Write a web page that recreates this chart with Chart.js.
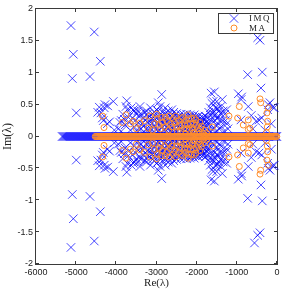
<!DOCTYPE html>
<html>
<head>
<meta charset="utf-8">
<script src="https://cdn.jsdelivr.net/npm/chart.js@4/dist/chart.umd.min.js"></script>
<style>
html, body { margin: 0; padding: 0; background: #fff; }
canvas { display: block; }
</style>
</head>
<body>
<canvas id="eigChart" width="288" height="291"></canvas>
<script>
// eigenvalue spectrum: IMQ vs MA

const X_TICKS = [-6000, -5000, -4000, -3000, -2000, -1000, 0];
const Y_TICKS = [-2, -1.5, -1, -0.5, 0, 0.5, 1, 1.5, 2];

// real eigenvalues (Im = 0), packed densely along the axis
const imqReal = [
  -5350,-5325,-5300,-5275,-5250,-5225,-5200,-5175,-5150,-5125,-5100,-5075,-5050,-5025,-5000,
  -4975,-4950,-4925,-4900,-4875,-4850,-4825,-4800,-4775,-4750,-4725,-4700,-4675,-4650,-4625,-4600,-4575,-4550,-4525,-4500,-4475,-4450,-4425,-4400,-4375,-4350,-4325,-4300,-4275,-4250,-4225,-4200,-4175,-4150,-4125,-4100,-4075,-4050,-4025,-4000,
  -3975,-3950,-3925,-3900,-3875,-3850,-3825,-3800,-3775,-3750,-3725,-3700,-3675,-3650,-3625,-3600,-3575,-3550,-3525,-3500,-3475,-3450,-3425,-3400,-3375,-3350,-3325,-3300,-3275,-3250,-3225,-3200,-3175,-3150,-3125,-3100,-3075,-3050,-3025,-3000,
  -2975,-2950,-2925,-2900,-2875,-2850,-2825,-2800,-2775,-2750,-2725,-2700,-2675,-2650,-2625,-2600,-2575,-2550,-2525,-2500,-2475,-2450,-2425,-2400,-2375,-2350,-2325,-2300,-2275,-2250,-2225,-2200,-2175,-2150,-2125,-2100,-2075,-2050,-2025,-2000,
  -1975,-1950,-1925,-1900,-1875,-1850,-1825,-1800,-1775,-1750,-1725,-1700,-1675,-1650,-1625,-1600,-1575,-1550,-1525,-1500,-1475,-1450,-1425,-1400,-1375,-1350,-1325,-1300,-1275,-1250,-1225,-1200,-1175,-1150,-1125,-1100,-1075,-1050,-1025,-1000,
  -975,-950,-925,-900,-875,-850,-825,-800,-775,-750,-725,-700,-675,-650,-625,-600,-575,-550,-525,-500,-475,-450,-425,-400,-375,-350,-325,-300,-275,-250,-225,-200,-175,-150,-125,-100,-75,-50,-25,-5
];
const maReal = [
  -4525,-4500,-4475,-4450,-4425,-4400,-4375,-4350,-4325,-4300,-4275,-4250,-4225,-4200,-4175,-4150,-4125,-4100,-4075,-4050,-4025,-4000,
  -3975,-3950,-3925,-3900,-3875,-3850,-3825,-3800,-3775,-3750,-3725,-3700,-3675,-3650,-3625,-3600,-3575,-3550,-3525,-3500,-3475,-3450,-3425,-3400,-3375,-3350,-3325,-3300,-3275,-3250,-3225,-3200,-3175,-3150,-3125,-3100,-3075,-3050,-3025,-3000,
  -2975,-2950,-2925,-2900,-2875,-2850,-2825,-2800,-2775,-2750,-2725,-2700,-2675,-2650,-2625,-2600,-2575,-2550,-2525,-2500,-2475,-2450,-2425,-2400,-2375,-2350,-2325,-2300,-2275,-2250,-2225,-2200,-2175,-2150,-2125,-2100,-2075,-2050,-2025,-2000,
  -1975,-1950,-1925,-1900,-1875,-1850,-1825,-1800,-1775,-1750,-1725,-1700,-1675,-1650,-1625,-1600,-1575,-1550,-1525,-1500,-1475,-1450,-1425,-1400,-1375,-1350,-1325,-1300,-1275,-1250,-1225,-1200,-1175,-1150,-1125,-1100,-1075,-1050,-1025,-1000,
  -975,-950,-925,-900,-875,-850,-825,-800,-775,-750,-725,-700,-675,-650,-625,-600,-575,-550,-525,-500,-475,-450,-425,-400,-375,-350,-325,-300,-275,-250,-225,-200,-175,-150,-125,-100,-75,-50,-25,-5
];

// complex eigenvalues [Re, Im], upper half-plane
const imqUpper = [
  [-5129,1.74],[-4549,1.64],[-5071,1.29],[-4399,1.18],[-5096,0.91],[-4656,0.94],[-4997,0.37],
  [-481,1.55],[-423,1.51],[-560,1.67],[-730,0.97],[-367,1.01],[-399,0.76],
  [-4464,0.38],[-4424,0.46],[-4282,0.50],[-4215,0.48],[-4075,0.55],[-4349,0.29],[-4324,0.25],[-4225,0.20],[-4168,0.23],[-4300,0.45],[-4382,0.37],
  [-3742,0.56],[-3760,0.47],[-3727,0.42],[-3876,0.25],[-3802,0.27],[-3910,0.22],[-3785,0.18],[-4050,0.10],[-3950,0.12],
  [-3880,0.08],[-3840,0.35],[-3700,0.30],[-3630,0.45],[-3560,0.40],[-3530,0.25],[-3470,0.40],[-3430,0.14],[-3390,0.36],
  [-3578,0.42],[-3600,0.29],[-3411,0.47],[-3329,0.29],[-3500,0.35],[-3450,0.22],[-3550,0.15],[-3380,0.12],[-3650,0.10],[-3480,0.08],[-3680,0.22],[-3300,0.38],
  [-3250,0.40],[-3200,0.30],[-3150,0.45],[-3100,0.36],[-3050,0.25],[-3000,0.42],[-2955,0.53],[-2871,0.66],[-2913,0.47],[-2950,0.32],[-2900,0.18],[-2850,0.38],[-2800,0.28],[-2780,0.45],[-2750,0.15],[-2700,0.35],[-2650,0.25],[-2620,0.42],[-2600,0.10],[-2550,0.32],[-2520,0.20],[-3300,0.18],[-3220,0.10],[-3120,0.20],[-3020,0.12],[-2970,0.08],[-2820,0.10],[-2680,0.05],[-3180,0.06],[-2880,0.05],[-2580,0.05],[-3080,0.30],[-2730,0.22],[-3160,0.25],[-2860,0.24],
  [-3420,0.32],[-3360,0.20],[-3340,0.05],[-3280,0.26],[-3260,0.12],[-3230,0.35],[-3190,0.20],[-3140,0.12],[-3110,0.28],[-3090,0.05],[-3060,0.38],[-3040,0.16],[-3010,0.30],[-2990,0.20],[-2960,0.40],[-2930,0.26],[-2920,0.10],[-2890,0.32],[-2870,0.15],[-2840,0.30],
  [-2810,0.20],[-2790,0.36],[-2770,0.08],[-2760,0.28],[-2720,0.12],[-2710,0.40],[-2690,0.18],[-2660,0.32],[-2640,0.10],[-2630,0.22],[-2610,0.30],[-2590,0.16],[-2570,0.38],[-2560,0.24],[-2540,0.10],[-2510,0.28],[-2500,0.36],[-2490,0.08],[-2470,0.20],[-2440,0.30],
  [-2430,0.12],[-2410,0.25],[-2390,0.30],[-2370,0.10],[-2360,0.16],[-2340,0.28],[-2320,0.34],[-2310,0.06],[-2290,0.22],[-2280,0.12],[-2260,0.30],[-2240,0.20],[-2220,0.28],[-2210,0.08],[-2190,0.18],[-2170,0.34],[-2160,0.10],[-2140,0.24],[-2120,0.15],[-2110,0.30],
  [-2090,0.26],[-2070,0.16],[-2060,0.34],[-2040,0.10],[-2030,0.20],[-2010,0.30],[-1990,0.08],[-1970,0.18],[-1960,0.26],[-1940,0.12],[-1930,0.28],[-1910,0.22],[-1890,0.05],[-1870,0.16],[-1860,0.25],[-1840,0.10],[-1820,0.28],[-1810,0.20],[-1790,0.32],[-1770,0.14],
  [-1760,0.08],[-1740,0.30],[-1730,0.20],[-1710,0.05],
  [-2480,0.30],[-2450,0.15],[-2400,0.35],[-2380,0.22],[-2350,0.08],[-2300,0.28],[-2270,0.18],[-2250,0.35],[-2200,0.12],[-2180,0.25],[-2150,0.32],[-2100,0.20],[-2080,0.08],[-2050,0.30],[-2000,0.15],[-1980,0.25],[-1950,0.32],[-1900,0.10],[-1880,0.22],[-1850,0.30],[-1800,0.15],[-1780,0.05],[-1750,0.22],[-1720,0.12],[-2420,0.05],[-2230,0.04],[-2130,0.05],[-2330,0.20],[-2020,0.24],[-1920,0.18],
  [-1640,0.68],[-1560,0.70],[-1620,0.52],[-1580,0.40],[-1650,0.33],[-1700,0.38],[-1500,0.55],[-1450,0.40],[-1550,0.25],[-1500,0.18],[-1420,0.25],[-1362,0.58],[-1300,0.35],[-1253,0.42],[-1380,0.15],[-1600,0.10],[-1320,0.08],[-1470,0.30],[-1250,0.20],
  [-1680,0.20],[-1660,0.45],[-1630,0.26],[-1610,0.36],[-1590,0.55],[-1570,0.14],[-1540,0.34],[-1530,0.45],[-1520,0.08],[-1490,0.28],[-1480,0.44],[-1440,0.12],[-1410,0.36],[-1400,0.47],[-1350,0.25],[-1340,0.40],[-1280,0.25],[-1220,0.12],
  [-963,0.67],[-880,0.62],[-893,0.58],[-715,0.47],[-640,0.33],[-523,0.24],[-449,0.26],[-380,0.29],[-217,0.50],[-175,0.53],[-108,0.46],[-68,0.45],[-232,0.42],[-897,0.26],[-600,0.12],[-300,0.10],[-140,0.20]
];
// conjugates, lower half-plane
const imqLower = [
  [-5129,-1.74],[-4549,-1.64],[-5071,-1.29],[-4399,-1.18],[-5096,-0.91],[-4656,-0.94],[-4997,-0.37],
  [-481,-1.55],[-423,-1.51],[-560,-1.67],[-730,-0.97],[-367,-1.01],[-399,-0.76],
  [-4464,-0.38],[-4424,-0.46],[-4282,-0.50],[-4215,-0.48],[-4075,-0.55],[-4349,-0.29],[-4324,-0.25],[-4225,-0.20],[-4168,-0.23],[-4300,-0.45],[-4382,-0.37],
  [-3742,-0.56],[-3760,-0.47],[-3727,-0.42],[-3876,-0.25],[-3802,-0.27],[-3910,-0.22],[-3785,-0.18],[-4050,-0.10],[-3950,-0.12],
  [-3880,-0.08],[-3840,-0.35],[-3700,-0.30],[-3630,-0.45],[-3560,-0.40],[-3530,-0.25],[-3470,-0.40],[-3430,-0.14],[-3390,-0.36],
  [-3578,-0.42],[-3600,-0.29],[-3411,-0.47],[-3329,-0.29],[-3500,-0.35],[-3450,-0.22],[-3550,-0.15],[-3380,-0.12],[-3650,-0.10],[-3480,-0.08],[-3680,-0.22],[-3300,-0.38],
  [-3250,-0.40],[-3200,-0.30],[-3150,-0.45],[-3100,-0.36],[-3050,-0.25],[-3000,-0.42],[-2955,-0.53],[-2871,-0.66],[-2913,-0.47],[-2950,-0.32],[-2900,-0.18],[-2850,-0.38],[-2800,-0.28],[-2780,-0.45],[-2750,-0.15],[-2700,-0.35],[-2650,-0.25],[-2620,-0.42],[-2600,-0.10],[-2550,-0.32],[-2520,-0.20],[-3300,-0.18],[-3220,-0.10],[-3120,-0.20],[-3020,-0.12],[-2970,-0.08],[-2820,-0.10],[-2680,-0.05],[-3180,-0.06],[-2880,-0.05],[-2580,-0.05],[-3080,-0.30],[-2730,-0.22],[-3160,-0.25],[-2860,-0.24],
  [-3420,-0.32],[-3360,-0.20],[-3340,-0.05],[-3280,-0.26],[-3260,-0.12],[-3230,-0.35],[-3190,-0.20],[-3140,-0.12],[-3110,-0.28],[-3090,-0.05],[-3060,-0.38],[-3040,-0.16],[-3010,-0.30],[-2990,-0.20],[-2960,-0.40],[-2930,-0.26],[-2920,-0.10],[-2890,-0.32],[-2870,-0.15],[-2840,-0.30],
  [-2810,-0.20],[-2790,-0.36],[-2770,-0.08],[-2760,-0.28],[-2720,-0.12],[-2710,-0.40],[-2690,-0.18],[-2660,-0.32],[-2640,-0.10],[-2630,-0.22],[-2610,-0.30],[-2590,-0.16],[-2570,-0.38],[-2560,-0.24],[-2540,-0.10],[-2510,-0.28],[-2500,-0.36],[-2490,-0.08],[-2470,-0.20],[-2440,-0.30],
  [-2430,-0.12],[-2410,-0.25],[-2390,-0.30],[-2370,-0.10],[-2360,-0.16],[-2340,-0.28],[-2320,-0.34],[-2310,-0.06],[-2290,-0.22],[-2280,-0.12],[-2260,-0.30],[-2240,-0.20],[-2220,-0.28],[-2210,-0.08],[-2190,-0.18],[-2170,-0.34],[-2160,-0.10],[-2140,-0.24],[-2120,-0.15],[-2110,-0.30],
  [-2090,-0.26],[-2070,-0.16],[-2060,-0.34],[-2040,-0.10],[-2030,-0.20],[-2010,-0.30],[-1990,-0.08],[-1970,-0.18],[-1960,-0.26],[-1940,-0.12],[-1930,-0.28],[-1910,-0.22],[-1890,-0.05],[-1870,-0.16],[-1860,-0.25],[-1840,-0.10],[-1820,-0.28],[-1810,-0.20],[-1790,-0.32],[-1770,-0.14],
  [-1760,-0.08],[-1740,-0.30],[-1730,-0.20],[-1710,-0.05],
  [-2480,-0.30],[-2450,-0.15],[-2400,-0.35],[-2380,-0.22],[-2350,-0.08],[-2300,-0.28],[-2270,-0.18],[-2250,-0.35],[-2200,-0.12],[-2180,-0.25],[-2150,-0.32],[-2100,-0.20],[-2080,-0.08],[-2050,-0.30],[-2000,-0.15],[-1980,-0.25],[-1950,-0.32],[-1900,-0.10],[-1880,-0.22],[-1850,-0.30],[-1800,-0.15],[-1780,-0.05],[-1750,-0.22],[-1720,-0.12],[-2420,-0.05],[-2230,-0.04],[-2130,-0.05],[-2330,-0.20],[-2020,-0.24],[-1920,-0.18],
  [-1640,-0.68],[-1560,-0.70],[-1620,-0.52],[-1580,-0.40],[-1650,-0.33],[-1700,-0.38],[-1500,-0.55],[-1450,-0.40],[-1550,-0.25],[-1500,-0.18],[-1420,-0.25],[-1362,-0.58],[-1300,-0.35],[-1253,-0.42],[-1380,-0.15],[-1600,-0.10],[-1320,-0.08],[-1470,-0.30],[-1250,-0.20],
  [-1680,-0.20],[-1660,-0.45],[-1630,-0.26],[-1610,-0.36],[-1590,-0.55],[-1570,-0.14],[-1540,-0.34],[-1530,-0.45],[-1520,-0.08],[-1490,-0.28],[-1480,-0.44],[-1440,-0.12],[-1410,-0.36],[-1400,-0.47],[-1350,-0.25],[-1340,-0.40],[-1280,-0.25],[-1220,-0.12],
  [-963,-0.67],[-880,-0.62],[-893,-0.58],[-715,-0.47],[-640,-0.33],[-523,-0.24],[-449,-0.26],[-380,-0.29],[-217,-0.50],[-175,-0.53],[-108,-0.46],[-68,-0.45],[-232,-0.42],[-897,-0.26],[-600,-0.12],[-300,-0.10],[-140,-0.20]
];

const maUpper = [
  [-4340,0.32],[-4307,0.14],[-3760,0.34],[-3578,0.24],[-3411,0.21],[-3162,0.32],[-3204,0.13],[-3050,0.20],[-2980,0.28],[-2900,0.12],
  [-2850,0.22],[-2780,0.30],[-2700,0.10],[-2650,0.20],[-2580,0.28],[-2500,0.15],[-2450,0.25],[-2400,0.08],[-2350,0.30],[-2300,0.18],
  [-2250,0.12],[-2210,0.34],[-2200,0.28],[-2150,0.20],[-2100,0.10],[-2060,0.29],[-2050,0.05],[-2000,0.18],[-1950,0.08],[-1900,0.12],[-1850,0.05],
  [-3300,0.25],[-3100,0.10],[-3000,0.35],[-2940,0.18],[-2880,0.30],[-2800,0.15],[-2740,0.25],[-2680,0.32],[-2620,0.15],[-2550,0.22],
  [-2520,0.32],[-2480,0.08],[-2420,0.18],[-2380,0.28],[-2320,0.12],[-2280,0.25],[-2230,0.20],[-2180,0.10],[-2130,0.28],[-2120,0.14],
  [-2080,0.20],[-2020,0.26],[-1980,0.12],[-1920,0.22],[-1880,0.16],[-1800,0.10],[-1750,0.05],[-3500,0.12],[-3650,0.20],[-3850,0.22],
  [-1611,0.15],[-1195,0.32],[-980,0.29],[-939,0.47],[-840,0.18],[-715,0.11],[-715,0.26],[-673,0.13],
  [-423,0.59],[-406,0.53],[-250,0.37],[-242,0.15],[-232,0.24],[-217,0.45],[-260,0.06]
];
const maLower = [
  [-4340,-0.32],[-4307,-0.14],[-3760,-0.34],[-3578,-0.24],[-3411,-0.21],[-3162,-0.32],[-3204,-0.13],[-3050,-0.20],[-2980,-0.28],[-2900,-0.12],
  [-2850,-0.22],[-2780,-0.30],[-2700,-0.10],[-2650,-0.20],[-2580,-0.28],[-2500,-0.15],[-2450,-0.25],[-2400,-0.08],[-2350,-0.30],[-2300,-0.18],
  [-2250,-0.12],[-2210,-0.34],[-2200,-0.28],[-2150,-0.20],[-2100,-0.10],[-2060,-0.29],[-2050,-0.05],[-2000,-0.18],[-1950,-0.08],[-1900,-0.12],[-1850,-0.05],
  [-3300,-0.25],[-3100,-0.10],[-3000,-0.35],[-2940,-0.18],[-2880,-0.30],[-2800,-0.15],[-2740,-0.25],[-2680,-0.32],[-2620,-0.15],[-2550,-0.22],
  [-2520,-0.32],[-2480,-0.08],[-2420,-0.18],[-2380,-0.28],[-2320,-0.12],[-2280,-0.25],[-2230,-0.20],[-2180,-0.10],[-2130,-0.28],[-2120,-0.14],
  [-2080,-0.20],[-2020,-0.26],[-1980,-0.12],[-1920,-0.22],[-1880,-0.16],[-1800,-0.10],[-1750,-0.05],[-3500,-0.12],[-3650,-0.20],[-3850,-0.22],
  [-1611,-0.15],[-1195,-0.32],[-980,-0.29],[-939,-0.47],[-840,-0.18],[-715,-0.11],[-715,-0.26],[-673,-0.13],
  [-423,-0.59],[-406,-0.53],[-250,-0.37],[-242,-0.15],[-232,-0.24],[-217,-0.45],[-260,-0.06]
];

const IMQ_COLOR = 'rgba(0, 0, 255, 0.72)';
const MA_COLOR = '#ff8c2a';
const AXIS_COLOR = '#3a3a3a';

function toPoints(realAxis, upper, lower) {
  const pts = realAxis.map(re => ({ x: re, y: 0 }));
  upper.forEach(p => pts.push({ x: p[0], y: p[1] }));
  lower.forEach(p => pts.push({ x: p[0], y: p[1] }));
  return pts;
}

// MATLAB-like box with inward ticks, drawn under the markers
const boxPlugin = {
  id: 'box',
  beforeDatasetsDraw(chart) {
    const { ctx, chartArea: a, scales } = chart;
    const len = 3;
    ctx.save();
    ctx.strokeStyle = AXIS_COLOR;
    ctx.lineWidth = 1;
    ctx.beginPath();
    X_TICKS.forEach(v => {
      const px = Math.round(scales.x.getPixelForValue(v)) - 0.5;
      ctx.moveTo(px, a.bottom); ctx.lineTo(px, a.bottom - len);
      ctx.moveTo(px, a.top); ctx.lineTo(px, a.top + len);
    });
    Y_TICKS.forEach(v => {
      const py = Math.round(scales.y.getPixelForValue(v)) - 0.5;
      ctx.moveTo(a.left, py); ctx.lineTo(a.left + len, py);
      ctx.moveTo(a.right, py); ctx.lineTo(a.right - len, py);
    });
    ctx.stroke();
    ctx.strokeRect(a.left - 0.5, a.top - 0.5, a.right - a.left + 1, a.bottom - a.top + 1);
    ctx.restore();
  }
};

// legend box in the upper right corner of the axes
const legendPlugin = {
  id: 'boxLegend',
  afterDatasetsDraw(chart) {
    const { ctx } = chart;
    const x0 = 218.5, y0 = 13.5, w = 55, h = 20;
    ctx.save();
    ctx.fillStyle = '#fff';
    ctx.fillRect(x0, y0, w, h);
    ctx.strokeStyle = AXIS_COLOR;
    ctx.lineWidth = 1;
    ctx.strokeRect(x0, y0, w, h);

    const mx = 234, r = 4.2;
    ctx.strokeStyle = IMQ_COLOR;
    ctx.beginPath();
    ctx.moveTo(mx - r, 18.5 - r); ctx.lineTo(mx + r, 18.5 + r);
    ctx.moveTo(mx + r, 18.5 - r); ctx.lineTo(mx - r, 18.5 + r);
    ctx.stroke();

    ctx.strokeStyle = MA_COLOR;
    ctx.beginPath();
    ctx.arc(mx, 28, 3, 0, Math.PI * 2);
    ctx.stroke();

    ctx.fillStyle = '#222';
    ctx.font = "9px 'Liberation Serif'";
    ctx.letterSpacing = '1.5px';
    ctx.textBaseline = 'middle';
    ctx.fillText('IMQ', 249, 19);
    ctx.fillText('MA', 249, 28.5);
    ctx.restore();
  }
};

const ctx = document.getElementById('eigChart').getContext('2d');
new Chart(ctx, {
  type: 'scatter',
  data: {
    datasets: [
      {
        label: 'IMQ',
        data: toPoints(imqReal, imqUpper, imqLower),
        pointStyle: 'crossRot',
        pointRadius: 6,
        borderWidth: 1,
        borderColor: IMQ_COLOR,
        backgroundColor: IMQ_COLOR,
        clip: false,
        order: 2
      },
      {
        label: 'MA',
        data: toPoints(maReal, maUpper, maLower),
        pointStyle: 'circle',
        pointRadius: 3,
        borderWidth: 1,
        borderColor: MA_COLOR,
        backgroundColor: 'rgba(0,0,0,0)',
        clip: false,
        order: 1
      }
    ]
  },
  options: {
    responsive: false,
    devicePixelRatio: 1,
    animation: false,
    events: [],
    layout: { padding: { top: 9, right: 11, left: 0, bottom: 0 } },
    plugins: {
      legend: { display: false },
      tooltip: { enabled: false }
    },
    scales: {
      x: {
        type: 'linear',
        position: 'bottom',
        min: -6000,
        max: 0,
        afterFit: s => { s.height = 27; },
        afterBuildTicks: s => { s.ticks = X_TICKS.map(v => ({ value: v })); },
        grid: { display: false, drawTicks: false },
        border: { display: false },
        ticks: {
          padding: 3,
          color: '#222',
          font: { family: "'Liberation Sans', Arial, sans-serif", size: 9 },
          maxRotation: 0,
          callback: v => String(v)
        },
        title: {
          display: true,
          text: 'Re(λ)',
          color: '#222',
          font: { family: "'Liberation Serif', serif", size: 11 },
          padding: { top: 0, bottom: 1 }
        }
      },
      y: {
        type: 'linear',
        min: -2,
        max: 2,
        afterFit: s => { s.width = 36; },
        afterBuildTicks: s => { s.ticks = Y_TICKS.map(v => ({ value: v })); },
        grid: { display: false, drawTicks: false },
        border: { display: false },
        ticks: {
          padding: 3,
          color: '#222',
          font: { family: "'Liberation Sans', Arial, sans-serif", size: 9 },
          callback: v => String(v)
        },
        title: {
          display: true,
          text: 'Im(λ)',
          color: '#222',
          font: { family: "'Liberation Serif', serif", size: 12 },
          padding: { top: 1, bottom: 0 }
        }
      }
    }
  },
  plugins: [boxPlugin, legendPlugin]
});
</script>
</body>
</html>
